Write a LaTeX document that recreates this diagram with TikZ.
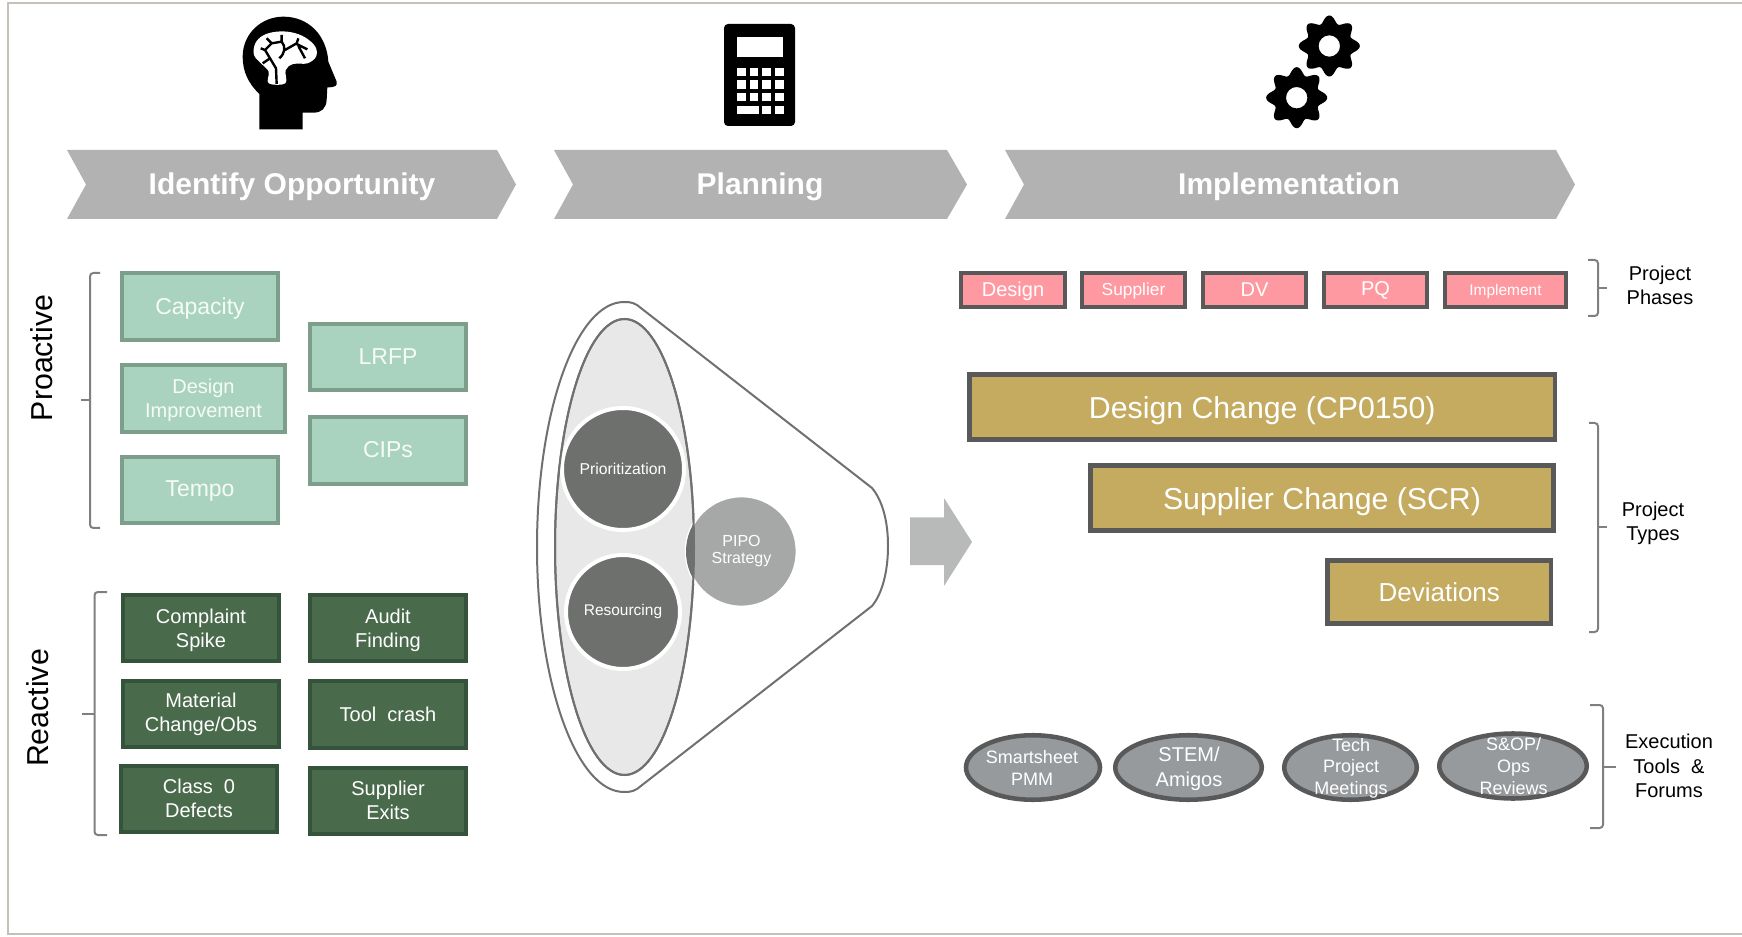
\documentclass[tikz,border=0pt]{standalone}
\usepackage{fontspec}
\setmainfont{Liberation Sans}
\newfontfamily\widesp[WordSpace=2.0]{Liberation Sans}
\usetikzlibrary{shapes.geometric}
\definecolor{framec}{HTML}{C6C0BA}
\definecolor{chevc}{HTML}{B2B2B2}
\definecolor{ltfill}{HTML}{A9D3BF}
\definecolor{ltline}{HTML}{7E9E8C}
\definecolor{dkfill}{HTML}{4A6A4C}
\definecolor{dkline}{HTML}{35523A}
\definecolor{slate}{HTML}{595959}
\definecolor{pinkf}{HTML}{FF99A1}
\definecolor{goldf}{HTML}{C4AB60}
\definecolor{ovalf}{HTML}{969A9D}
\definecolor{bracec}{HTML}{7F7F7F}
\definecolor{funl}{HTML}{707070}
\definecolor{inner}{HTML}{E8E8E8}
\definecolor{darkc}{HTML}{6E706E}
\definecolor{midc}{HTML}{A6A8A7}
\definecolor{arrowc}{HTML}{B8BAB9}
\definecolor{softw}{HTML}{F6FBF8}
\newcommand{\bx}[7]{% name x1 y1 x2 y2 style text
  \node[#6,minimum width={(#4-#2-\bw)*0.75pt},minimum height={(#5-#3-\bw)*0.75pt}] (#1) at ({(#2+#4)/2},{(#3+#5)/2}) {#7};}
\newcommand{\bw}{4}
\newcommand{\dnone}[2]{\raisebox{-#1}[\height][\depth]{#2}}
\newcommand{\dnmany}[2]{\raisebox{-#1}[\height][\depth]{\begin{tabular}{@{}c@{}}#2\end{tabular}}}
\newcommand{\gearicon}[2]{%
  \fill[black,even odd rule] plot[domain=0:360,samples=161] ({#1+(26.8+3.7*cos(8*\x))*cos(\x)},{#2+(26.8+3.7*cos(8*\x))*sin(\x)}) -- cycle (#1+10.7,#2) arc[start angle=0,end angle=360,radius=10.7];}
\tikzset{
  box/.style={draw,inner sep=0pt,align=center,text=white},
  lt/.style={box,fill=ltfill,draw=ltline,line width=3pt,text=softw},
  dk/.style={box,fill=dkfill,draw=dkline,line width=3pt},
  pk/.style={box,fill=pinkf,draw=slate,line width=3pt},
  gd/.style={box,fill=goldf,draw=slate,line width=3.4pt},
  oval/.style={ellipse,draw=slate,fill=ovalf,line width=3.4pt,inner sep=0pt},
  txt/.style={inner sep=0pt,align=center},
  wtxt/.style={txt,text=white},
  brace/.style={draw=bracec,line width=1.5pt,rounded corners=2.5pt},
  chev/.style={fill=chevc},
  chevt/.style={txt,text=white,font=\bfseries\fontsize{22.5pt}{26pt}\selectfont},
  f15/.style={font=\fontsize{15pt}{18pt}\selectfont},
  f17/.style={font=\fontsize{17.25pt}{20pt}\selectfont},
  f22/.style={font=\fontsize{22.7pt}{26pt}\selectfont},
}
\begin{document}
\begin{tikzpicture}[x=0.75pt,y=-0.75pt]
\useasboundingbox (0,0) rectangle (1742,937);
% frame
\draw[framec,line width=1.5pt] (1742,3) -- (8,3) -- (8,934) -- (1742,934);
% icons: head
\begin{scope}[shift={(220,0)},x=0.25pt,y=-0.25pt]
\fill[black] (118,388) -- (118,282) .. controls (85,250) and (68,215) .. (68,170) .. controls (68,100) and (125,50) .. (190,50) .. controls (265,50) and (320,105) .. (325,185) -- (350,245) .. controls (353,258) and (345,262) .. (322,262) -- (320,300) .. controls (318,325) and (305,338) .. (280,338) -- (248,338) -- (248,388) -- cycle;
\fill[white] plot[smooth cycle,tension=0.6] coordinates {(146,250)(146,215)(125,192)(102,165)(106,130)(130,106)(170,95)(215,97)(255,112)(286,140)(288,170)(262,190)(220,192)(197,210)(196,250)};
\draw[black,line width=1.8pt,line join=round]
 (170,252) -- (168,205) -- (150,175) -- (135,150) -- (155,130) -- (185,125) -- (185,105)
 (150,175) -- (128,190)
 (135,150) -- (122,145)
 (155,130) -- (140,115)
 (185,125) .. controls (198,140) and (195,160) .. (178,175)
 (195,150) -- (230,130) -- (235,115)
 (230,132) -- (262,148)
 (235,138) -- (255,175);
\end{scope}
% calculator
\fill[black,rounded corners=3pt] (724,24) rectangle (795,126);
\fill[white] (737,37) rectangle (783,57);
\foreach \yy in {68,80.5,93}
  \foreach \xx in {737,749.5,762,775}
    \fill[white] (\xx,\yy) rectangle ++(8.5,8.3);
\fill[white] (737,106) rectangle (758.5,114);
\fill[white] (762,106) rectangle (770.5,114);
\fill[white] (775,106) rectangle (783.5,114);
% gears
\gearicon{1329.3}{46}
\gearicon{1296.7}{97.7}
% chevrons
\fill[chev] (67,150) -- (497,150) -- (516,184.5) -- (497,219) -- (67,219) -- (86,184.5) -- cycle;
\node[chevt] (identify) at (292,184.5) {\dnone{1.8pt}{Identify Opportunity}};
\fill[chev] (554,150) -- (947,150) -- (967,184.5) -- (947,219) -- (554,219) -- (573,184.5) -- cycle;
\node[chevt] (planning) at (760,184.5) {\dnone{1.8pt}{Planning}};
\fill[chev] (1005,150) -- (1556,150) -- (1575,184.5) -- (1556,219) -- (1005,219) -- (1024,184.5) -- cycle;
\node[chevt] (impl) at (1289,184.5) {\dnone{1.8pt}{Implementation}};
% proactive
\bx{capacity}{120}{271}{280}{342}{lt,f17}{\dnone{1.7pt}{Capacity}}
\bx{designimp}{120}{363}{287}{434}{lt,f15}{\dnmany{1.8pt}{Design\\Improvement}}
\bx{tempo}{120}{455}{280}{525}{lt,f17}{\dnone{0.8pt}{Tempo}}
\bx{lrfp}{308}{322}{468}{392}{lt,f17}{LRFP}
\bx{cips}{308}{415}{468}{486}{lt,f17}{\dnone{-0.8pt}{CIPs}}
% reactive
\bx{complaint}{121}{593}{281}{663}{dk,f15}{\dnmany{1.8pt}{Complaint\\Spike}}
\bx{material}{121}{679}{281}{749}{dk,f15}{Material\\Change/Obs}
\bx{classzero}{119}{764}{279}{834}{dk,f15}{\dnmany{1pt}{{\widesp Class 0}\\Defects}}
\bx{audit}{308}{593}{468}{663}{dk,f15}{\dnmany{1.8pt}{Audit\\Finding}}
\bx{toolcrash}{308}{679}{468}{750}{dk,f15}{\widesp Tool crash}
\bx{supexits}{308}{766}{468}{836}{dk,f15}{\dnmany{1pt}{Supplier\\Exits}}
% left braces and labels
\draw[brace] (100,273) -- (90,273) -- (90,528) -- (100,528);
\draw[brace] (81,400) -- (90,400);
\draw[brace] (107,592) -- (94.5,592) -- (94.5,835) -- (107,835);
\draw[brace] (82,714) -- (94.5,714);
\node[txt,f22,rotate=90] (proactive) at (42,358) {Proactive};
\node[txt,f22,rotate=90] (reactive) at (38,708) {Reactive};
% funnel
\draw[funl,line width=1.5pt,line join=round] (637,305) -- (872,488) .. controls (882,500) and (888,520) .. (888,546) .. controls (888,572) and (882,594) .. (872,606) -- (637,789) .. controls (632,792) and (628,792) .. (624,792) .. controls (576,792) and (537,682) .. (537,547) .. controls (537,412) and (576,302) .. (624,302) .. controls (628,302) and (632,302) .. (637,305) -- cycle;
\node[ellipse,draw=funl,fill=inner,line width=1.5pt,inner sep=0pt,minimum width={139*0.75pt},minimum height={456*0.75pt}] (innerell) at (624.5,547) {};
\node[circle,fill=darkc,draw=white,line width=3pt,inner sep=0pt,minimum size={122*0.75pt},text=white,font=\fontsize{11.8pt}{13pt}\selectfont] (prio) at (623,469) {Prioritization};
\node[circle,fill=darkc,draw=white,line width=3pt,inner sep=0pt,minimum size={114*0.75pt},text=white,font=\fontsize{11.6pt}{13pt}\selectfont] (resourcing) at (623,612) {Resourcing};
\node[circle,fill=midc,draw=white,line width=2pt,inner sep=0pt,minimum size={111*0.75pt},text=white,align=center,font=\fontsize{12pt}{12.8pt}\selectfont] (pipo) at (741.5,551.5) {PIPO\\Strategy};
\begin{scope}
\clip (741.5,551.5) circle[radius=55.5];
\fill[darkc] (624.5,547) ellipse[x radius=69.5,y radius=228];
\end{scope}
\draw[funl,line width=1.5pt] (624.5,547) ellipse[x radius=69.5,y radius=228];
% big arrow
\fill[arrowc] (910,517.5) -- (944,517.5) -- (944,498) -- (972,542) -- (944,586) -- (944,565) -- (910,565) -- cycle;
% phases
\renewcommand{\bw}{4.5}
\bx{phdesign}{959}{271}{1067}{309}{pk,f15}{\dnone{0.8pt}{Design}}
\bx{phsupplier}{1080}{271}{1187}{309}{pk,font=\fontsize{13pt}{15pt}\selectfont}{\dnone{0.8pt}{Supplier}}
\bx{phdv}{1201}{271}{1308}{309}{pk,f15}{DV}
\bx{phpq}{1322}{271}{1429}{309}{pk,f15}{PQ}
\bx{phimpl}{1443}{271}{1568}{309}{pk,font=\fontsize{11.6pt}{14pt}\selectfont}{\dnone{0.8pt}{Implement}}
% types
\renewcommand{\bw}{5}
\bx{cp}{967}{372}{1557.5}{442}{gd,f22}{\dnone{2.5pt}{Design Change (CP0150)}}
\bx{scr}{1088}{463}{1556}{533}{gd,f22}{\dnone{2.5pt}{Supplier Change (SCR)}}
\bx{devs}{1325}{558}{1553.5}{626}{gd,font=\fontsize{19.5pt}{23pt}\selectfont}{Deviations}
% ovals
\node[oval,minimum width={134*0.75pt},minimum height={64.5*0.75pt}] (smart) at (1033,767.5) {};
\node[wtxt,font=\fontsize{13.5pt}{17pt}\selectfont] (smartt) at (1032,768) {Smartsheet\\PMM};
\node[oval,minimum width={146.5*0.75pt},minimum height={64.5*0.75pt}] (stem) at (1188.5,767.5) {};
\node[wtxt,font=\fontsize{15pt}{18.3pt}\selectfont] (stemt) at (1189,769) {STEM/\\Amigos};
\node[oval,minimum width={132.5*0.75pt},minimum height={64.5*0.75pt}] (tech) at (1350.5,767.5) {};
\node[wtxt,font=\fontsize{13.5pt}{16.2pt}\selectfont] (techt) at (1351,768) {Tech\\Project\\Meetings};
\node[oval,minimum width={147.5*0.75pt},minimum height={65*0.75pt}] (sop) at (1513,766) {};
\node[wtxt,font=\fontsize{13.5pt}{16.2pt}\selectfont] (sopt) at (1513.5,766) {S\&OP/\\Ops\\Reviews};
% right braces
\draw[brace] (1588,260) -- (1598,260) -- (1598,316) -- (1588,316);
\draw[brace] (1598,288) -- (1606.5,288);
\draw[brace] (1589,423) -- (1598,423) -- (1598,632) -- (1589,632);
\draw[brace] (1598,527) -- (1607,527);
\draw[brace] (1590,705) -- (1603,705) -- (1603,828) -- (1590,828);
\draw[brace] (1603,767) -- (1616,767);
\node[txt,font=\fontsize{15pt}{18.3pt}\selectfont] (phases) at (1660,285.5) {Project\\Phases};
\node[txt,font=\fontsize{15pt}{18.3pt}\selectfont] (ptypes) at (1653,523.5) {Project\\Types};
\node[txt,font=\fontsize{15pt}{18.3pt}\selectfont] (exec) at (1669,766) {Execution\\{\widesp Tools \&}\\Forums};
\end{tikzpicture}
\end{document}
